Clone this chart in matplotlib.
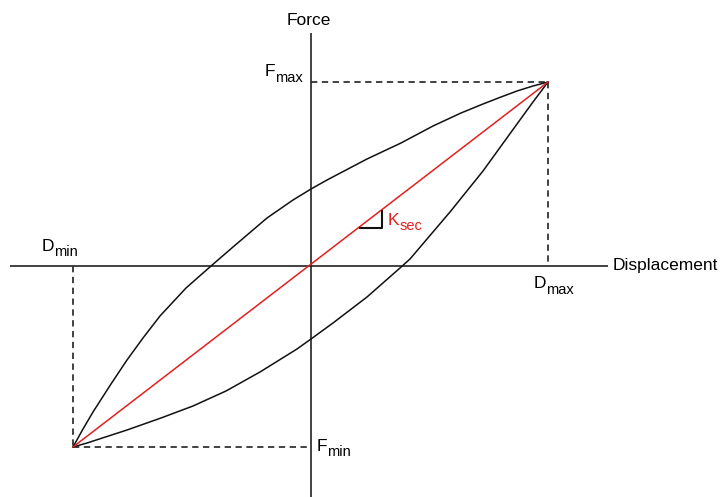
import numpy as np
import matplotlib.pyplot as plt

plt.rcParams['font.family'] = ['Liberation Sans', 'DejaVu Sans']

# peak points of the loop
d_max, f_max = 237, 184
d_min, f_min = -238, -181

# upper (unloading) branch
upper_x = [-238, -228, -218, -200, -184, -168, -151, -125, -100, -78, -44, -18, 0,
           16, 56, 90, 122, 150, 172, 190, 206, 222, 237]
upper_y = [-181, -163, -146, -118, -94, -72, -50, -22, 0, 19, 48, 66, 77,
           86, 107, 123, 140, 153, 162, 169, 175, 180, 184]

# lower (loading) branch
lower_x = [-238, -224, -184, -150, -118, -85, -51, -14, 0, 22, 56, 89, 99,
           139, 172, 206, 222, 237]
lower_y = [-181, -177, -164, -152, -140, -125, -106, -83, -73, -57, -31, -2, 7,
           54, 95, 142, 164, 184]

# axes extents
x_axis = [-301, 297]
y_axis = [233, -240]

red = '#e3201f'
FS_MAIN = 12.5
FS_SUB = 10.5

fig = plt.figure(figsize=(7.26, 4.97), dpi=100)
ax = fig.add_axes([0, 0, 1, 1])
ax.set_xlim(-311, 415)
ax.set_ylim(-231, 266)
ax.axis('off')
renderer = fig.canvas.get_renderer()


def sub_label(x, y, main, sub, color='black'):
    # main letter then a smaller, lowered subscript right after it
    t = ax.text(x, y, main, fontsize=FS_MAIN, ha='left', va='baseline', color=color)
    w = t.get_window_extent(renderer).width  # 1 data unit == 1 px here
    ax.text(x + w, y - 5.5, sub, fontsize=FS_SUB, ha='left', va='baseline', color=color)


# axes lines
ax.plot(x_axis, [0, 0], color='#222222', lw=1.2, solid_capstyle='butt')
ax.plot([0, 0], y_axis, color='#222222', lw=1.2, solid_capstyle='butt')

# dashed guide lines
dash = dict(color='#333333', lw=1.3, dashes=(3.5, 2.5))
ax.plot([0, d_max], [f_max, f_max], **dash)
ax.plot([d_max, d_max], [f_max, 0], **dash)
ax.plot([d_min, d_min], [0, f_min], **dash)
ax.plot([d_min, 0], [f_min, f_min], **dash)

# hysteresis loop
ax.plot(upper_x, upper_y, color='#111111', lw=1.1)
ax.plot(lower_x, lower_y, color='#111111', lw=1.1)

# secant stiffness
ax.plot([d_min, d_max], [f_min, f_max], color=red, lw=1.1)
k = f_max / d_max
tri_x = [49, 71, 71]
ax.plot(tri_x, [k * tri_x[0], k * tri_x[0], k * tri_x[2]], color='#111111', lw=1.5)
sub_label(77, 41, 'K', 'sec', color=red)

# labels
ax.text(-24, 241, 'Force', fontsize=FS_MAIN, ha='left', va='baseline')
ax.text(302, -4, 'Displacement', fontsize=FS_MAIN, ha='left', va='baseline')
sub_label(-46, 190, 'F', 'max')
sub_label(6, -185, 'F', 'min')
sub_label(223, -22, 'D', 'max')
sub_label(-269, 15, 'D', 'min')

fig.savefig('out.png', dpi=100)
